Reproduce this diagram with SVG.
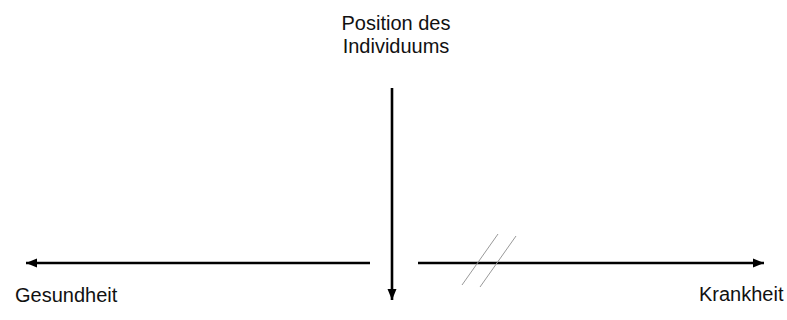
<svg xmlns="http://www.w3.org/2000/svg" width="787" height="320" viewBox="0 0 787 320">
<style>
text{font-family:"Liberation Sans",Arial,sans-serif;font-size:20px;fill:#111}
.ax{stroke:#000;stroke-width:2.6;fill:none}
.sl{stroke:#999;stroke-width:1;fill:none}
</style>
<defs>
<marker id="ah" markerUnits="userSpaceOnUse" markerWidth="12" markerHeight="10" refX="11" refY="5" orient="auto">
<path d="M0,0.5 L11,5 L0,9.5 Z" fill="#000"/>
</marker>
</defs>
<rect width="787" height="320" fill="#fff"/>
<g id="label-position">
<text x="396" y="30" text-anchor="middle">Position des</text>
<text x="396" y="53" text-anchor="middle">Individuums</text>
</g>
<g id="label-gesundheit"><text x="15" y="302">Gesundheit</text></g>
<g id="label-krankheit"><text x="699" y="301">Krankheit</text></g>
<g id="connectors">
<line class="ax" x1="370" y1="263" x2="26" y2="263" marker-end="url(#ah)"/>
<line class="ax" x1="418" y1="263" x2="764" y2="263" marker-end="url(#ah)"/>
<line class="ax" x1="392" y1="88" x2="392" y2="300" marker-end="url(#ah)"/>
<line class="sl" x1="462" y1="285" x2="498" y2="234"/>
<line class="sl" x1="480" y1="287" x2="516" y2="236"/>
</g>
</svg>
